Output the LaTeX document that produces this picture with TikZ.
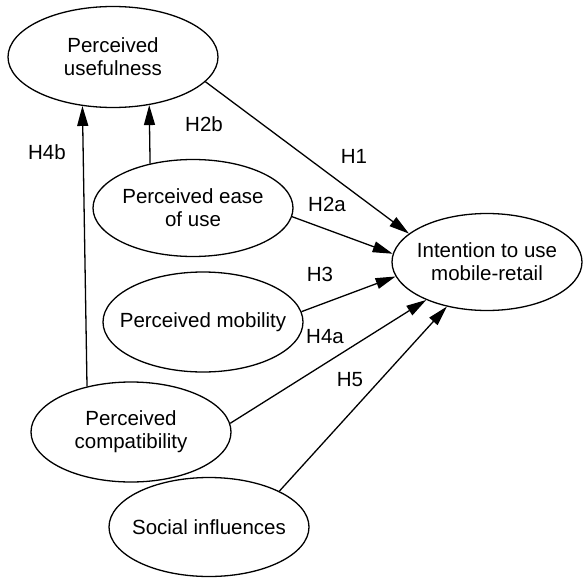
\documentclass[tikz,border=0pt]{standalone}
\usepackage{fontspec}
\setmainfont{Liberation Sans}
\usetikzlibrary{shapes.geometric,arrows.meta}

\begin{document}
\begin{tikzpicture}[x=1pt,y=-1pt,
        construct/.style={draw,ellipse,line width=1.3pt,minimum width=200pt,minimum height=100pt,
            inner xsep=-30pt,inner ysep=0pt,align=center,font=\fontsize{20.5}{23}\selectfont},
        hyp/.style={line width=1.3pt,-{Triangle[length=20pt,width=11pt]}},
        hlabel/.style={font=\fontsize{20.5}{23}\selectfont}]
            \useasboundingbox (0,0) rectangle (583,578);

            \node[construct,minimum width=210pt,minimum height=101pt] (use) at (113,57) {Perceived\\usefulness};
            \node[construct,minimum height=97pt] (ease) at (193,208) {Perceived ease\\of use};
            \node[construct] (mob) at (203,322) {Perceived mobility};
            \node[construct] (comp) at (131,432) {Perceived\\compatibility};
            \node[construct,minimum height=99pt] (soc) at (209,527) {Social influences};
            \node[construct,minimum width=190pt,minimum height=97pt] (int) at (487,262) {Intention to use\\mobile-retail};

            \draw[hyp] (use.-15) to (int.160.5);
            \draw[hyp] (ease.-5) to (int.175);
            \draw[hyp] (mob.6) to (int.189);
            \draw[hyp] (comp.5) to (int.212);
            \draw[hyp] (soc.27) to (int.228);
            \draw[hyp] (ease.134) to (use.307.5);
            \draw[hyp] (comp.134.5) to (use.238);

            \node[hlabel] (h1) at (354,156) {H1};
            \node[hlabel] (h2a) at (327,204) {H2a};
            \node[hlabel] (h2b) at (204,124) {H2b};
            \node[hlabel] (h3) at (320,274) {H3};
            \node[hlabel] (h4a) at (325,337) {H4a};
            \node[hlabel] (h4b) at (47,152) {H4b};
            \node[hlabel] (h5) at (350,380) {H5};
        \end{tikzpicture}
\end{document}
